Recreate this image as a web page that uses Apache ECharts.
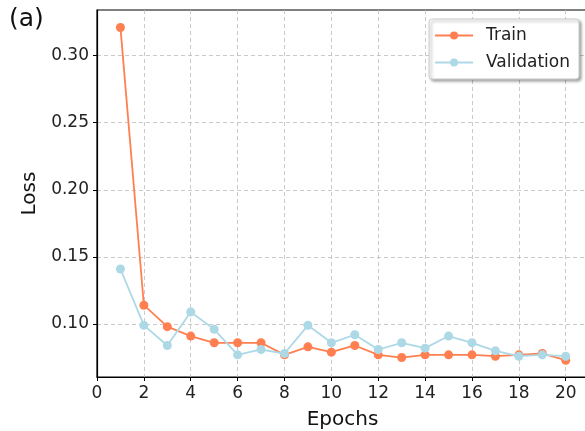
<!DOCTYPE html>
<html>
<head>
<meta charset="utf-8">
<script src="https://cdn.jsdelivr.net/npm/echarts@6/dist/echarts.min.js"></script>
<style>
  html, body { margin: 0; padding: 0; background: #fff; }
  #chart { width: 585px; height: 431px; }
</style>
</head>
<body>
<div id="chart"></div>
<script>
// epochs 1..20
const epochs = [1, 2, 3, 4, 5, 6, 7, 8, 9, 10, 11, 12, 13, 14, 15, 16, 17, 18, 19, 20];
const trainLoss = [0.321, 0.114, 0.098, 0.091, 0.086, 0.086, 0.086, 0.077, 0.083, 0.079,
  0.084, 0.077, 0.075, 0.077, 0.077, 0.077, 0.076, 0.077, 0.078, 0.073];
const valLoss = [0.141, 0.099, 0.084, 0.109, 0.096, 0.077, 0.081, 0.078, 0.099, 0.086,
  0.092, 0.081, 0.086, 0.082, 0.091, 0.086, 0.080, 0.076, 0.077, 0.076];
const xTicks = [0, 2, 4, 6, 8, 10, 12, 14, 16, 18, 20];
const yTicks = [0.10, 0.15, 0.20, 0.25, 0.30];

const font = "DejaVu Sans";
const chart = echarts.init(document.getElementById("chart"));

chart.setOption({
  animation: false,
  textStyle: { fontFamily: font },
  graphic: [
    { type: "text", left: 9, top: 7, style: { text: "(a)", fontSize: 25, fontFamily: font, fill: "#111" } }
  ],
  legend: {
    right: 6,
    top: 19,
    orient: "vertical",
    itemWidth: 38,
    itemHeight: 10,
    itemGap: 10,
    padding: [8, 9, 8, 5],
    backgroundColor: "#fff",
    borderColor: "#ccc",
    borderWidth: 1,
    borderRadius: 3,
    shadowColor: "rgba(0,0,0,0.35)",
    shadowBlur: 3,
    shadowOffsetX: 2,
    shadowOffsetY: 2,
    textStyle: { fontSize: 17, fontFamily: font, color: "#222", padding: [0, 0, 0, 8] },
    data: ["Train", "Validation"]
  },
  grid: {
    left: 97,
    right: -3,
    top: 10,
    bottom: 54,
    outerBoundsMode: "none",
    show: true,
    borderColor: "#000",
    borderWidth: 1.2
  },
  xAxis: {
    type: "value",
    min: 0,
    max: 20.95,
    name: "Epochs",
    nameLocation: "middle",
    nameGap: 33,
    nameTextStyle: { fontSize: 20, fontFamily: font, color: "#111" },
    axisLine: { show: true, lineStyle: { color: "#000", width: 1.2 } },
    axisTick: { show: true, length: 4, lineStyle: { color: "#000" }, customValues: xTicks },
    axisLabel: { fontSize: 17, color: "#222", margin: 8, customValues: xTicks },
    splitLine: { show: true, lineStyle: { color: "#bcbcbc", type: [4, 3], width: 0.8 } }
  },
  yAxis: {
    type: "value",
    min: 0.0605,
    max: 0.334,
    name: "Loss",
    nameLocation: "middle",
    nameGap: 56,
    nameTextStyle: { fontSize: 20, fontFamily: font, color: "#111" },
    axisLine: { show: true, lineStyle: { color: "#000", width: 1.2 } },
    axisTick: { show: true, length: 4, lineStyle: { color: "#000" }, customValues: yTicks },
    axisLabel: {
      fontSize: 17, color: "#222", margin: 8, customValues: yTicks,
      formatter: v => v.toFixed(2)
    },
    splitLine: { show: true, lineStyle: { color: "#bcbcbc", type: [4, 3], width: 0.8 } }
  },
  series: [
    {
      name: "Train",
      type: "line",
      data: epochs.map((e, i) => [e, trainLoss[i]]),
      symbol: "circle",
      symbolSize: 9,
      lineStyle: { color: "#FF7F50", width: 1.8 },
      itemStyle: { color: "#FF7F50" },
      z: 3
    },
    {
      name: "Validation",
      type: "line",
      data: epochs.map((e, i) => [e, valLoss[i]]),
      symbol: "circle",
      symbolSize: 9,
      lineStyle: { color: "#ADD8E6", width: 1.8 },
      itemStyle: { color: "#ADD8E6" },
      z: 4
    }
  ]
});
</script>
</body>
</html>
